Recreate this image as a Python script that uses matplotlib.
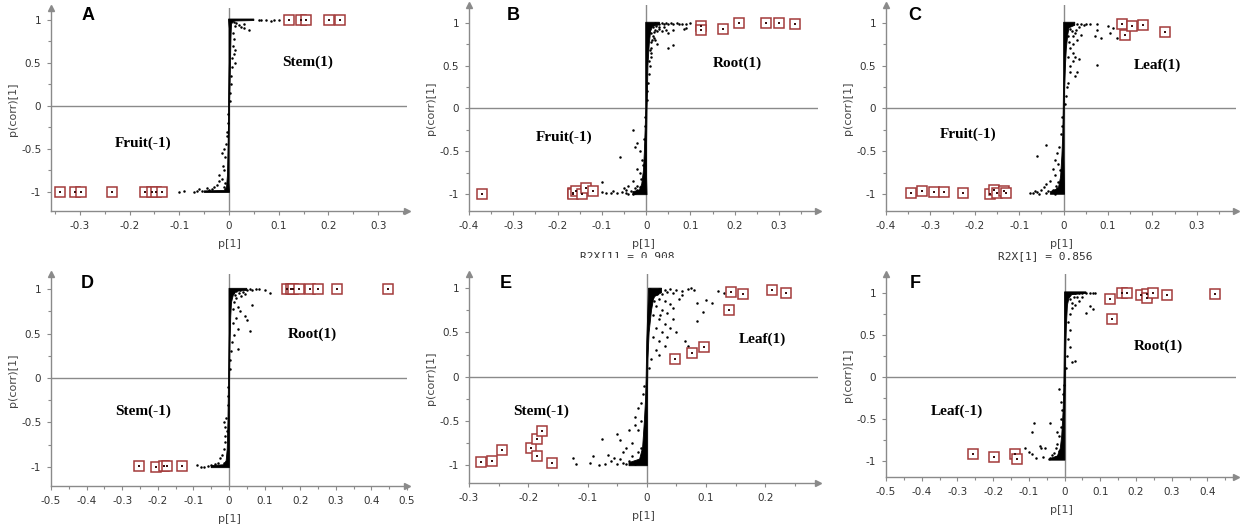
import numpy as np
import matplotlib
matplotlib.use('Agg')
import matplotlib.pyplot as plt
from matplotlib.ticker import MultipleLocator, FuncFormatter
from matplotlib.patches import Rectangle

# ---------------- data ----------------
# selected variables (red squares)
a_sel_x = [-0.339, -0.31, -0.298, -0.235, -0.168, -0.154, -0.146, -0.134, 0.121, 0.145, 0.155, 0.202, 0.223]
a_sel_y = [-1.0, -1.0, -1.0, -1.0, -1.0, -1.0, -1.0, -1.0, 1.0, 1.0, 1.0, 1.0, 1.0]
b_sel_x = [-0.37, -0.166, -0.166, -0.159, -0.144, -0.136, -0.121, 0.123, 0.123, 0.174, 0.21, 0.27, 0.30, 0.335]
b_sel_y = [-1.0, -0.99, -1.0, -0.96, -1.0, -0.93, -0.96, 0.96, 0.92, 0.93, 1.0, 1.0, 1.0, 0.98]
c_sel_x = [-0.343, -0.318, -0.293, -0.269, -0.226, -0.165, -0.156, -0.149, -0.134, -0.130, 0.132, 0.139, 0.154, 0.179, 0.229]
c_sel_y = [-0.987, -0.963, -0.979, -0.979, -0.987, -1.0, -0.955, -0.99, -0.963, -0.99, 0.99, 0.86, 0.956, 0.97, 0.886]
d_sel_x = [-0.254, -0.204, -0.182, -0.174, -0.132, 0.163, 0.175, 0.181, 0.197, 0.228, 0.249, 0.303, 0.447]
d_sel_y = [-0.99, -1.0, -0.99, -0.99, -0.99, 1.0, 1.0, 1.0, 1.0, 1.0, 1.0, 1.0, 1.0]
e_sel_x = [-0.279, -0.262, -0.245, -0.195, -0.185, -0.177, -0.186, -0.160, 0.048, 0.076, 0.096, 0.138, 0.142, 0.163, 0.211, 0.235]
e_sel_y = [-0.964, -0.953, -0.825, -0.809, -0.704, -0.61, -0.893, -0.972, 0.204, 0.264, 0.332, 0.75, 0.957, 0.934, 0.983, 0.942]
f_sel_x = [-0.256, -0.197, -0.138, -0.134, 0.128, 0.132, 0.161, 0.176, 0.214, 0.231, 0.231, 0.247, 0.287, 0.422]
f_sel_y = [-0.915, -0.954, -0.92, -0.98, 0.92, 0.69, 0.994, 1.0, 0.975, 0.987, 0.94, 0.999, 0.967, 0.982]

# outline of the dense S-shaped cloud (right edge top->bottom, then left edge bottom->top)
a_core_x = [0.05, 0.05, 0.01, 0.005, 0.004, 0.003, 0.002, 0.001, 0.0, 0.0, 0.001,
            -0.05, -0.05, -0.01, -0.005, -0.003, -0.002, -0.001, -0.001, 0.0, 0.0, -0.001]
a_core_y = [1.008, 0.99, 0.985, 0.95, 0.8, 0.5, 0.2, 0.0, -0.5, -0.9, -1.008,
            -1.008, -0.99, -0.985, -0.95, -0.8, -0.5, -0.2, 0.0, 0.5, 0.9, 1.008]
b_core_x = [0.03, 0.03, 0.015, 0.01, 0.007, 0.004, 0.003, 0.002, 0.001, 0.001, 0.002,
            -0.03, -0.03, -0.015, -0.01, -0.006, -0.004, -0.002, -0.001, -0.001, -0.001, -0.001]
b_core_y = [1.005, 0.98, 0.96, 0.9, 0.75, 0.5, 0.2, 0.0, -0.4, -0.8, -1.005,
            -1.005, -0.97, -0.95, -0.88, -0.72, -0.5, -0.2, 0.0, 0.4, 0.8, 1.005]
c_core_x = [0.025, 0.025, 0.012, 0.009, 0.006, 0.004, 0.002, 0.001, 0.001, 0.002,
            -0.03, -0.03, -0.012, -0.007, -0.004, -0.002, -0.001, 0.0, 0.0, 0.0]
c_core_y = [1.005, 0.97, 0.94, 0.85, 0.7, 0.5, 0.2, -0.2, -0.6, -1.0,
            -1.0, -0.97, -0.93, -0.8, -0.55, -0.3, 0.0, 0.4, 0.8, 1.005]
d_core_x = [0.05, 0.05, 0.02, 0.012, 0.007, 0.005, 0.003, 0.002, 0.001, 0.001, 0.001,
            -0.05, -0.05, -0.015, -0.008, -0.005, -0.003, -0.002, -0.001, 0.0, 0.0]
d_core_y = [1.008, 0.985, 0.975, 0.93, 0.85, 0.7, 0.4, 0.1, -0.3, -0.7, -1.008,
            -1.008, -0.985, -0.975, -0.93, -0.8, -0.5, -0.2, 0.1, 0.5, 1.008]
e_core_x = [0.025, 0.025, 0.012, 0.008, 0.004, 0.002, 0.001, 0.001, 0.001,
            -0.03, -0.03, -0.012, -0.007, -0.004, -0.002, -0.001, 0.0, 0.002, 0.003]
e_core_y = [1.0, 0.95, 0.9, 0.75, 0.5, 0.2, -0.3, -0.7, -1.005,
            -1.005, -0.97, -0.93, -0.8, -0.5, -0.25, 0.0, 0.4, 0.8, 1.0]
f_core_x = [0.06, 0.06, 0.02, 0.012, 0.008, 0.005, 0.003, 0.002, 0.001, 0.001,
            -0.04, -0.04, -0.02, -0.012, -0.008, -0.004, -0.002, -0.001, 0.0, 0.0]
f_core_y = [1.008, 0.99, 0.975, 0.93, 0.85, 0.6, 0.3, -0.1, -0.5, -0.99,
            -0.99, -0.97, -0.94, -0.85, -0.7, -0.4, -0.1, 0.3, 0.7, 1.008]

# loose points around the cloud
a_dots = [(0.06, 1.0), (0.065, 1.0), (0.075, 0.995), (0.085, 0.99), (0.09, 1.0), (0.1, 1.0),
          (0.01, 0.97), (0.015, 0.96), (0.02, 0.94), (0.012, 0.93), (0.025, 0.92), (0.03, 0.9),
          (0.03, 0.95), (0.04, 0.88), (0.008, 0.85), (0.01, 0.78), (0.008, 0.7), (0.012, 0.65),
          (0.01, 0.6), (0.007, 0.55), (0.012, 0.5), (0.006, 0.45), (0.004, 0.35), (0.005, 0.25),
          (0.003, 0.15), (0.002, 0.05), (-0.002, -0.1), (-0.003, -0.2), (-0.004, -0.3),
          (-0.005, -0.35), (-0.006, -0.45), (-0.01, -0.5), (-0.015, -0.55), (-0.008, -0.6),
          (-0.012, -0.7), (-0.01, -0.75), (-0.02, -0.8), (-0.015, -0.85), (-0.02, -0.88),
          (-0.025, -0.92), (-0.03, -0.95), (-0.035, -0.97), (-0.04, -0.98), (-0.06, -0.97),
          (-0.065, -0.99), (-0.07, -1.0), (-0.09, -0.99), (-0.1, -1.0), (-0.055, -0.99),
          (-0.045, -0.96), (-0.01, -0.95), (-0.008, -0.9)]
b_dots = [(0.005, 0.98), (0.01, 0.99), (0.015, 0.97), (0.02, 1.0), (0.025, 0.98), (0.03, 0.99),
          (0.035, 1.0), (0.04, 0.99), (0.045, 1.0), (0.05, 0.98), (0.055, 1.0), (0.06, 0.99),
          (0.07, 1.0), (0.075, 0.99), (0.08, 0.98), (0.09, 0.98), (0.1, 1.0), (0.085, 0.93),
          (0.09, 0.94), (0.06, 0.91), (0.05, 0.88), (0.035, 0.9), (0.02, 0.92), (0.015, 0.85),
          (0.02, 0.8), (0.01, 0.78), (0.06, 0.74), (0.05, 0.7), (0.025, 0.75), (0.012, 0.7),
          (0.01, 0.6), (0.008, 0.5), (0.006, 0.4), (0.005, 0.3), (0.003, 0.2), (0.002, 0.1),
          (0.015, 0.95), (0.025, 0.9), (0.03, 0.95), (0.012, 0.88), (0.018, 0.82),
          (0.022, 0.96), (0.028, 0.93), (0.017, 0.89), (0.013, 0.8), (0.009, 0.68),
          (0.04, 0.95), (0.045, 0.92), (0.007, 0.55), (0.011, 0.65),
          (-0.002, -0.1), (-0.003, -0.2), (-0.03, -0.25), (-0.005, -0.35), (-0.02, -0.4),
          (-0.025, -0.45), (-0.015, -0.5), (-0.06, -0.56), (-0.01, -0.6), (-0.02, -0.7),
          (-0.015, -0.75), (-0.03, -0.85), (-0.1, -0.86), (-0.04, -0.9), (-0.05, -0.93),
          (-0.055, -0.97), (-0.075, -0.96), (-0.08, -0.98), (-0.09, -0.99), (-0.1, -0.97),
          (-0.065, -0.99), (-0.045, -0.98), (-0.035, -0.96), (-0.025, -0.99), (-0.02, -0.95),
          (-0.015, -0.92), (-0.01, -0.97), (-0.03, -1.0), (-0.04, -1.0), (-0.02, -0.9),
          (-0.012, -0.82), (-0.008, -0.66), (-0.025, -0.93), (-0.045, -0.95)]
c_dots = [(0.02, 0.99), (0.03, 0.98), (0.035, 0.95), (0.04, 0.99), (0.045, 0.97), (0.05, 0.98),
          (0.06, 0.98), (0.075, 0.99), (0.075, 0.92), (0.085, 0.82), (0.07, 0.85), (0.1, 0.96),
          (0.105, 0.88), (0.12, 0.82), (0.11, 0.94), (0.04, 0.86), (0.025, 0.88), (0.03, 0.8),
          (0.02, 0.75), (0.015, 0.7), (0.02, 0.65), (0.025, 0.6), (0.035, 0.58), (0.02, 0.55),
          (0.015, 0.5), (0.03, 0.43), (0.025, 0.38), (0.015, 0.42), (0.075, 0.51), (0.01, 0.3),
          (0.008, 0.25), (0.005, 0.15), (0.003, 0.05), (0.015, 0.93), (0.01, 0.85),
          (0.018, 0.9), (0.012, 0.78), (0.022, 0.84), (0.028, 0.92), (0.01, 0.6),
          (-0.003, -0.1), (-0.004, -0.2), (-0.005, -0.3), (-0.04, -0.42), (-0.01, -0.45),
          (-0.06, -0.55), (-0.015, -0.52), (-0.02, -0.6), (-0.012, -0.65), (-0.025, -0.7),
          (-0.02, -0.78), (-0.03, -0.85), (-0.04, -0.88), (-0.045, -0.92), (-0.05, -0.95),
          (-0.06, -0.97), (-0.07, -0.98), (-0.075, -0.99), (-0.065, -0.96), (-0.055, -1.0),
          (-0.04, -0.99), (-0.035, -0.96), (-0.025, -0.95), (-0.015, -0.93), (-0.02, -1.0),
          (-0.012, -0.86), (-0.008, -0.72), (-0.018, -0.9)]
d_dots = [(0.02, 0.98), (0.03, 0.99), (0.04, 0.97), (0.05, 0.99), (0.06, 1.0), (0.065, 0.99),
          (0.075, 1.0), (0.085, 1.0), (0.1, 0.99), (0.115, 0.95), (0.045, 0.94), (0.035, 0.92),
          (0.02, 0.9), (0.015, 0.85), (0.025, 0.8), (0.065, 0.82), (0.03, 0.75), (0.045, 0.7),
          (0.05, 0.65), (0.02, 0.68), (0.01, 0.62), (0.06, 0.53), (0.025, 0.55), (0.015, 0.48),
          (0.025, 0.33), (0.008, 0.4), (0.005, 0.3), (0.003, 0.2), (0.002, 0.1),
          (0.012, 0.95), (0.018, 0.93), (0.01, 0.78), (0.028, 0.96),
          (-0.002, -0.1), (-0.003, -0.2), (-0.004, -0.3), (-0.015, -0.5), (-0.008, -0.45),
          (-0.01, -0.55), (-0.012, -0.65), (-0.005, -0.6), (-0.01, -0.72), (-0.015, -0.8),
          (-0.02, -0.86), (-0.025, -0.9), (-0.03, -0.95), (-0.04, -0.97), (-0.06, -0.99),
          (-0.07, -0.995), (-0.08, -1.0), (-0.09, -0.98), (-0.05, -0.98), (-0.015, -0.95)]
e_dots = [(0.005, 0.99), (0.01, 0.97), (0.015, 0.95), (0.02, 0.99), (0.025, 0.93), (0.03, 0.98),
          (0.035, 0.96), (0.04, 0.99), (0.045, 0.95), (0.05, 0.98), (0.06, 0.97), (0.07, 0.99),
          (0.075, 1.0), (0.08, 0.98), (0.12, 0.97), (0.13, 0.94), (0.1, 0.87), (0.11, 0.83),
          (0.085, 0.83), (0.095, 0.73), (0.085, 0.63), (0.065, 0.4), (0.07, 0.35),
          (0.01, 0.9), (0.02, 0.88), (0.03, 0.85), (0.04, 0.82), (0.015, 0.8), (0.025, 0.75),
          (0.035, 0.72), (0.045, 0.78), (0.01, 0.7), (0.02, 0.65), (0.03, 0.6), (0.04, 0.55),
          (0.015, 0.55), (0.025, 0.5), (0.035, 0.45), (0.01, 0.45), (0.02, 0.4), (0.03, 0.35),
          (0.015, 0.3), (0.05, 0.5), (0.045, 0.65), (0.055, 0.88), (0.06, 0.92), (0.008, 0.2),
          (0.004, 0.1), (0.02, 0.25), (0.012, 0.85), (0.018, 0.93), (0.022, 0.7),
          (-0.004, -0.1), (-0.006, -0.2), (-0.015, -0.35), (-0.02, -0.45), (-0.01, -0.3),
          (-0.03, -0.6), (-0.05, -0.65), (-0.045, -0.72), (-0.075, -0.7), (-0.04, -0.85),
          (-0.035, -0.8), (-0.025, -0.75), (-0.015, -0.6), (-0.02, -0.55), (-0.01, -0.5),
          (-0.06, -0.95), (-0.065, -0.88), (-0.09, -0.89), (-0.095, -0.97), (-0.12, -0.98),
          (-0.125, -0.92), (-0.05, -0.99), (-0.04, -0.97), (-0.03, -0.95), (-0.025, -0.9),
          (-0.055, -0.92), (-0.07, -0.99), (-0.08, -1.0), (-0.045, -0.93), (-0.02, -0.98),
          (-0.015, -0.85), (-0.01, -0.8), (-0.035, -0.99)]
f_dots = [(0.01, 0.99), (0.02, 1.0), (0.03, 0.99), (0.04, 1.0), (0.05, 0.99), (0.06, 1.0),
          (0.07, 0.99), (0.08, 1.0), (0.085, 0.99), (0.06, 0.76), (0.07, 0.84), (0.08, 0.8),
          (0.04, 0.9), (0.03, 0.85), (0.02, 0.82), (0.05, 0.95), (0.015, 0.92), (0.025, 0.95),
          (0.015, 0.75), (0.01, 0.65), (0.015, 0.55), (0.01, 0.45), (0.015, 0.35), (0.02, 0.18),
          (0.03, 0.19), (0.006, 0.25), (0.004, 0.1), (0.035, 0.95), (0.02, 0.88),
          (-0.003, -0.1), (-0.005, -0.2), (-0.01, -0.3), (-0.015, -0.15), (-0.008, -0.4),
          (-0.04, -0.55), (-0.085, -0.55), (-0.09, -0.65), (-0.07, -0.82), (-0.065, -0.85),
          (-0.055, -0.84), (-0.11, -0.85), (-0.1, -0.89), (-0.09, -0.92), (-0.08, -0.96),
          (-0.06, -0.95), (-0.04, -0.97), (-0.03, -0.9), (-0.025, -0.85), (-0.02, -0.8),
          (-0.015, -0.7), (-0.01, -0.6), (-0.02, -0.65), (-0.035, -0.93), (-0.045, -0.98),
          (-0.025, -0.95), (-0.015, -0.88), (-0.01, -0.5)]

# group labels
labels_pos = ['Stem(1)', 'Root(1)', 'Leaf(1)', 'Root(1)', 'Leaf(1)', 'Root(1)']
labels_neg = ['Fruit(-1)', 'Fruit(-1)', 'Fruit(-1)', 'Stem(-1)', 'Stem(-1)', 'Leaf(-1)']
panel_letters = ['A', 'B', 'C', 'D', 'E', 'F']
r2x_b = 'R2X[1] = 0.908'
r2x_c = 'R2X[1] = 0.856'

W, H = 1248, 529
fig = plt.figure(figsize=(W / 100, H / 100), dpi=100)
fig.patch.set_facecolor('white')

def fx(px):
    return px / W

def fy(py):
    return 1 - py / H

# axes rectangles in pixels: left, right, top, bottom
rects = [(51, 407, 8, 211), (469, 818, 5, 211), (886, 1236, 5, 211),
         (51, 407, 274, 486), (469, 818, 274, 483), (886, 1236, 274, 477)]
xlims = [(-0.358, 0.358), (-0.4, 0.388), (-0.4, 0.388), (-0.5, 0.5), (-0.3, 0.289), (-0.5, 0.48)]
ylims = [(-1.224, 1.136), (-1.195, 1.206), (-1.195, 1.206), (-1.214, 1.169), (-1.2, 1.16), (-1.19, 1.22)]
letter_pos = [(88, 15), (513, 15), (915, 15), (87, 283), (506, 283), (915, 283)]
pos_lab_pos = [(308, 62), (737, 63), (1157, 65), (312, 334), (762, 339), (1158, 346)]
neg_lab_pos = [(143, 143), (564, 137), (968, 134), (143, 411), (541, 411), (957, 411)]

cores = [(a_core_x, a_core_y), (b_core_x, b_core_y), (c_core_x, c_core_y),
         (d_core_x, d_core_y), (e_core_x, e_core_y), (f_core_x, f_core_y)]
sels = [(a_sel_x, a_sel_y), (b_sel_x, b_sel_y), (c_sel_x, c_sel_y),
        (d_sel_x, d_sel_y), (e_sel_x, e_sel_y), (f_sel_x, f_sel_y)]
dots = [a_dots, b_dots, c_dots, d_dots, e_dots, f_dots]

grey = '#8a8a8a'
red = '#a33a3a'

def fmt(v, pos):
    v = round(v, 2)
    if v == 0:
        return '0'
    return f'{v:g}'

for i in range(6):
    L, R, T, B = rects[i]
    ax = fig.add_axes([fx(L), fy(B), (R - L) / W, (B - T) / H])
    ax.set_xlim(xlims[i])
    ax.set_ylim(ylims[i])
    for s in ['top', 'right']:
        ax.spines[s].set_visible(False)
    for s in ['left', 'bottom']:
        ax.spines[s].set_color(grey)
        ax.spines[s].set_linewidth(1)
    ax.plot(1, 0, marker='>', ms=5, color=grey, transform=ax.transAxes, clip_on=False)
    ax.plot(0, 1, marker='^', ms=5, color=grey, transform=ax.transAxes, clip_on=False)
    ax.axhline(0, color=grey, lw=1, zorder=1)
    ax.axvline(0, color=grey, lw=1, zorder=1)

    ax.xaxis.set_major_locator(MultipleLocator(0.1))
    ax.xaxis.set_minor_locator(MultipleLocator(0.05))
    ax.yaxis.set_major_locator(MultipleLocator(0.5))
    ax.yaxis.set_minor_locator(MultipleLocator(0.25))
    ax.xaxis.set_major_formatter(FuncFormatter(fmt))
    ax.yaxis.set_major_formatter(FuncFormatter(fmt))
    ax.tick_params(which='major', length=3, width=0.8, color=grey, labelsize=7.5,
                   labelcolor='#333333', pad=4)
    ax.tick_params(which='minor', length=2, width=0.8, color=grey)
    ax.set_xlabel('p[1]', fontsize=8, color='#444444', labelpad=6)
    ax.set_ylabel('p(corr)[1]', fontsize=8, color='#444444', labelpad=2)

    cx, cy = cores[i]
    ax.fill(cx, cy, facecolor='black', edgecolor='black', lw=0.6, zorder=2)
    dx = [p[0] for p in dots[i]]
    dy = [p[1] for p in dots[i]]
    ax.plot(dx, dy, 'o', ms=1.8, color='black', mew=0, zorder=3)

    sx, sy = sels[i]
    ax.plot(sx, sy, 's', ms=6.5, mfc='white', mec=red, mew=1.1, zorder=4)
    ax.plot(sx, sy, 's', ms=1.6, color='#3a1010', mew=0, zorder=5)

    fig.text(fx(letter_pos[i][0]), fy(letter_pos[i][1]), panel_letters[i], fontsize=13,
             fontweight='bold', family='Liberation Sans', ha='center', va='center')
    fig.text(fx(pos_lab_pos[i][0]), fy(pos_lab_pos[i][1]), labels_pos[i], fontsize=11,
             fontweight='bold', family='Liberation Serif', ha='center', va='center')
    fig.text(fx(neg_lab_pos[i][0]), fy(neg_lab_pos[i][1]), labels_neg[i], fontsize=11,
             fontweight='bold', family='Liberation Serif', ha='center', va='center')

fig.text(fx(627), fy(256), r2x_b, fontsize=8, family='DejaVu Sans Mono',
         color='#333333', ha='center', va='center')
fig.text(fx(1045), fy(256), r2x_c, fontsize=8, family='DejaVu Sans Mono',
         color='#333333', ha='center', va='center')
# lower half of the first R2X line is hidden in the source figure
fig.patches.append(Rectangle((fx(560), fy(265)), fx(180), 7 / H, transform=fig.transFigure,
                             facecolor='white', edgecolor='none', zorder=10))

fig.savefig('out.png', dpi=100, facecolor='white')
